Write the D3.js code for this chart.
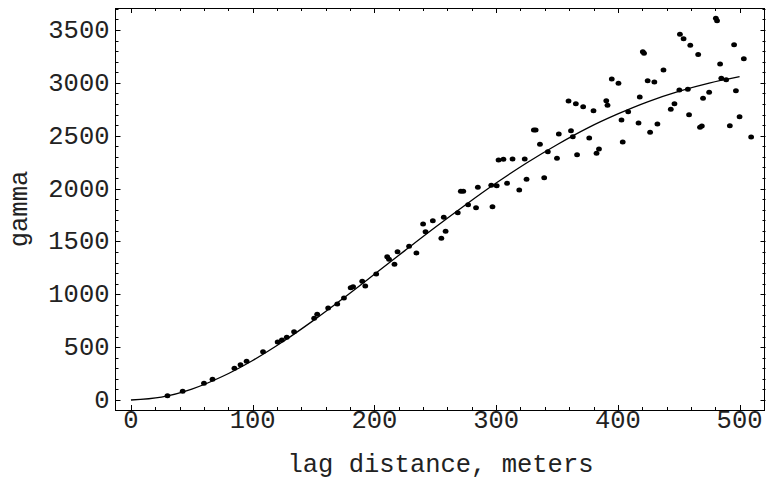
<head>
  <meta charset="UTF-8">
  <script src="https://d3js.org/d3.v7.min.js"></script>
</head>
<body>
  <div id="variogramContainer">
    <svg id="variogramSVG"></svg>
  </div>
</body>
<style>
  body { margin: 0; background: #fff; }
  .axistext {
    font-family: 'Liberation Mono', 'Courier New', monospace;
    font-size: 25.5px;
    fill: #222;
  }
</style>
<script type="text/javascript">
  // empirical variogram points: lag (m), gamma
  const lagValues = [30, 42.5, 60, 67, 85, 90, 95, 108.5, 120.5, 124, 128, 134, 150.5, 153, 162, 169.5, 175, 180.5, 182.5, 190,
    192.5, 201.5, 210.5, 212, 216.5, 219, 228.5, 234.5, 240, 242, 248, 255, 257, 258.5, 268.5, 271, 273, 277, 283.5, 285,
    296, 300.5, 297, 302, 306, 309, 313.5, 319, 323.5, 325, 331, 332.5, 336, 339.5, 342.5, 350, 351.5, 359.5, 361.5, 363,
    365.5, 366.5, 371.5, 376.5, 380, 382.5, 384.5, 390.5, 391.5, 395, 400.5, 403, 404, 408.5, 417, 418, 420.5, 421.5, 424.5, 426.5,
    430, 432.5, 437.5, 443.5, 446.5, 450.5, 451, 454, 457.5, 458.5, 459.5, 466, 467.5, 469, 470, 475, 480.5, 481.5, 484, 485,
    489, 492, 495.5, 497, 500, 503.5, 509.5];
  const gammaValues = [41, 82, 158, 196, 300, 334, 366, 457, 549, 568, 593, 646, 773, 810, 870, 908, 965, 1062, 1072, 1123,
    1078, 1192, 1356, 1331, 1284, 1403, 1454, 1391, 1665, 1592, 1696, 1530, 1728, 1596, 1772, 1974, 1974, 1848, 1819, 2012,
    2031, 2027, 1829, 2270, 2277, 2050, 2280, 1987, 2280, 2088, 2554, 2554, 2419, 2103, 2349, 2286, 2516, 2828, 2548, 2491,
    2803, 2320, 2775, 2478, 2737, 2334, 2374, 2831, 2788, 3037, 2996, 2649, 2441, 2727, 2620, 2866, 3295, 3280, 3021, 2532,
    3008, 2611, 3122, 2750, 2803, 2933, 3459, 3418, 2939, 2699, 3355, 3267, 2580, 2592, 2854, 2911, 3611, 3588, 3178, 3043,
    3030, 2595, 3361, 2926, 2680, 3229, 2488];

  // fitted model curve, read every 25 m
  const fitLags = [0, 25, 50, 75, 100, 125, 150, 175, 200, 225, 250, 275, 300, 325, 350, 375, 400, 425, 450, 475, 500];
  const fitGamma = [0, 27, 103, 222, 374, 553, 753, 967, 1189, 1413, 1634, 1847, 2052, 2242, 2415, 2572, 2706, 2823, 2919, 2997, 3058];

  const xTicks = [0, 100, 200, 300, 400, 500];
  const yTicks = [0, 500, 1000, 1500, 2000, 2500, 3000, 3500];

  const width = 766, height = 482;
  const frame = {left: 115.5, right: 765.5, top: 8, bottom: 410};

  let svg = d3.select('#variogramSVG')
    .attr('width', width)
    .attr('height', height);

  const x = d3.scaleLinear().domain([-12.7, 521.3]).range([frame.left, frame.right]);
  const y = d3.scaleLinear().domain([-94.6, 3708]).range([frame.bottom, frame.top]);

  // frame ticks, inward, on all four sides
  const xMinor = d3.range(0, 521, 20);
  const yMinor = d3.range(0, 3708, 100);
  const ticks = svg.append('g').attr('stroke', '#000').attr('stroke-width', 1);

  xMinor.forEach(v => {
    const len = v % 100 === 0 ? 5 : 3;
    const px = Math.round(x(v)) + 0.5;
    ticks.append('line').attr('x1', px).attr('x2', px).attr('y1', frame.bottom).attr('y2', frame.bottom - len);
    ticks.append('line').attr('x1', px).attr('x2', px).attr('y1', frame.top).attr('y2', frame.top + len);
  });
  yMinor.forEach(v => {
    const len = v % 500 === 0 ? 5 : 3;
    const py = Math.round(y(v)) + 0.5;
    ticks.append('line').attr('y1', py).attr('y2', py).attr('x1', frame.left).attr('x2', frame.left + len);
    ticks.append('line').attr('y1', py).attr('y2', py).attr('x1', frame.right).attr('x2', frame.right - len);
  });

  svg.append('rect')
    .attr('x', frame.left)
    .attr('y', frame.top + 0.5)
    .attr('width', frame.right - frame.left - 1)
    .attr('height', frame.bottom - frame.top)
    .attr('fill', 'none')
    .attr('stroke', '#000')
    .attr('stroke-width', 1);

  // tick labels
  svg.append('g')
    .attr('class', 'axistext')
    .selectAll('text')
    .data(xTicks)
    .join('text')
    .attr('x', d => x(d))
    .attr('y', 428)
    .attr('text-anchor', 'middle')
    .text(d => d);

  svg.append('g')
    .attr('class', 'axistext')
    .selectAll('text')
    .data(yTicks)
    .join('text')
    .attr('x', frame.left - 6)
    .attr('y', d => y(d) + 8)
    .attr('text-anchor', 'end')
    .text(d => d);

  svg.append('text')
    .attr('class', 'axistext')
    .attr('x', (frame.left + frame.right) / 2)
    .attr('y', 472)
    .attr('text-anchor', 'middle')
    .text('lag distance, meters');

  svg.append('text')
    .attr('class', 'axistext')
    .attr('transform', `translate(27,${(frame.top + frame.bottom) / 2}) rotate(-90)`)
    .attr('text-anchor', 'middle')
    .text('gamma');

  // model curve
  const fitData = fitLags.map((h, i) => [h, fitGamma[i]]);
  svg.append('path')
    .datum(fitData)
    .attr('fill', 'none')
    .attr('stroke', '#000')
    .attr('stroke-width', 1.3)
    .attr('d', d3.line().x(d => x(d[0])).y(d => y(d[1])).curve(d3.curveMonotoneX));

  // sample points
  const points = lagValues.map((h, i) => ({h: h, g: gammaValues[i]}));
  svg.append('g')
    .selectAll('ellipse')
    .data(points)
    .join('ellipse')
    .attr('cx', d => x(d.h))
    .attr('cy', d => y(d.g))
    .attr('rx', 2.9)
    .attr('ry', 2.5)
    .attr('fill', '#000');
</script>
